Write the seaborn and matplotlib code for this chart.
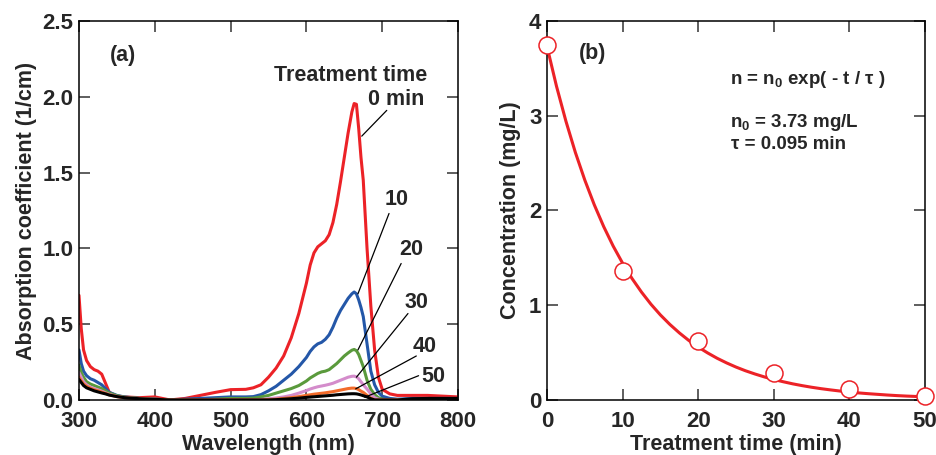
import numpy as np
import pandas as pd
import seaborn as sns
import matplotlib.pyplot as plt

# ---------------- data ---------------- #
wavelength = [300, 303, 306, 310, 315, 320, 325, 330, 335, 340, 350, 360, 380, 400,
              420, 440, 460, 480, 500, 520, 530, 540, 550, 560, 570, 580, 590,
              600, 605, 610, 615, 620, 625, 630, 635, 640, 645, 650, 655, 660, 663,
              666, 669, 672, 675, 680, 685, 690, 695, 700,
              710, 720, 740, 760, 780, 800]

abs_0min = [0.69, 0.47, 0.33, 0.26, 0.22, 0.20, 0.19, 0.17, 0.11, 0.05, 0.025, 0.02, 0.015, 0.02,
            0.0, 0.01, 0.03, 0.05, 0.068, 0.07, 0.08, 0.10, 0.15, 0.21, 0.29, 0.41, 0.57,
            0.77, 0.89, 0.97, 1.01, 1.03, 1.05, 1.09, 1.17, 1.29, 1.44, 1.60, 1.76, 1.90, 1.955,
            1.95, 1.79, 1.60, 1.45, 1.00, 0.62, 0.33, 0.15, 0.07,
            0.04, 0.03, 0.03, 0.03, 0.025, 0.02]
abs_10min = [0.33, 0.24, 0.19, 0.16, 0.14, 0.13, 0.115, 0.10, 0.075, 0.05, 0.03, 0.02, 0.01, 0.005,
             0.0, 0.005, 0.01, 0.015, 0.02, 0.02, 0.022, 0.035, 0.06, 0.09, 0.13, 0.17, 0.22,
             0.28, 0.32, 0.35, 0.37, 0.38, 0.40, 0.43, 0.48, 0.54, 0.59, 0.63, 0.67, 0.70, 0.712,
             0.70, 0.66, 0.61, 0.55, 0.37, 0.19, 0.10, 0.05, 0.025,
             0.01, 0.005, 0.01, 0.01, 0.01, 0.01]
abs_20min = [0.23, 0.18, 0.15, 0.12, 0.105, 0.095, 0.085, 0.075, 0.06, 0.045, 0.028, 0.018, 0.01, 0.005,
             0.0, 0.0, 0.0, 0.005, 0.01, 0.01, 0.012, 0.02, 0.03, 0.045, 0.06, 0.075, 0.095,
             0.125, 0.145, 0.16, 0.175, 0.185, 0.19, 0.20, 0.22, 0.24, 0.265, 0.29, 0.31, 0.328, 0.333,
             0.325, 0.30, 0.26, 0.22, 0.13, 0.07, 0.035, 0.015, 0.005,
             0.0, 0.0, 0.0, 0.0, 0.0, 0.0]
abs_30min = [0.18, 0.15, 0.12, 0.10, 0.085, 0.075, 0.067, 0.058, 0.047, 0.037, 0.023, 0.015, 0.008, 0.004,
             0.0, 0.0, 0.0, 0.0, 0.0, 0.0, 0.0, 0.003, 0.008, 0.013, 0.02, 0.03, 0.045,
             0.062, 0.072, 0.08, 0.087, 0.092, 0.097, 0.103, 0.11, 0.12, 0.13, 0.14, 0.15, 0.156, 0.157,
             0.152, 0.14, 0.12, 0.10, 0.072, 0.04, 0.015, 0.005, 0.0,
             0.0, 0.0, 0.0, 0.0, 0.0, 0.0]
abs_40min = [0.15, 0.125, 0.105, 0.09, 0.077, 0.067, 0.06, 0.052, 0.043, 0.034, 0.022, 0.015, 0.008, 0.003,
             0.0, 0.0, 0.0, 0.0, 0.0, 0.0, 0.0, 0.0, 0.002, 0.005, 0.01, 0.015, 0.022,
             0.03, 0.034, 0.038, 0.041, 0.044, 0.047, 0.051, 0.055, 0.06, 0.065, 0.07, 0.075, 0.078, 0.078,
             0.075, 0.068, 0.058, 0.05, 0.03, 0.012, 0.0, 0.0, 0.0,
             0.0, 0.0, 0.0, 0.0, 0.0, 0.0]
abs_50min = [0.135, 0.115, 0.095, 0.08, 0.07, 0.06, 0.053, 0.046, 0.04, 0.032, 0.022, 0.015, 0.008, 0.004,
             0.0, 0.0, 0.0, 0.0, 0.0, 0.0, 0.0, 0.0, 0.0, 0.002, 0.005, 0.008, 0.012,
             0.017, 0.019, 0.021, 0.023, 0.025, 0.027, 0.029, 0.031, 0.034, 0.036, 0.038, 0.04, 0.041, 0.041,
             0.04, 0.037, 0.033, 0.028, 0.02, 0.008, 0.0, 0.0, 0.0,
             0.0, 0.0, 0.008, 0.01, 0.01, 0.01]

spectra_labels = ["0 min", "10", "20", "30", "40", "50"]
spectra_colors = ["#ec2227", "#2457a8", "#5a9a3c", "#d48ccb", "#f26b2a", "#000000"]

# panel (b): measured concentrations and the fitted decay curve
treat_time = [0, 10, 20, 30, 40, 50]
concentration = [3.75, 1.36, 0.62, 0.28, 0.115, 0.045]

fit_time = [0, 1.25, 2.5, 3.75, 5, 6.25, 7.5, 8.75, 10, 11.25, 12.5, 13.75, 15, 16.25,
            17.5, 18.75, 20, 21.25, 22.5, 23.75, 25, 26.25, 27.5, 28.75, 30, 31.25, 32.5,
            33.75, 35, 36.25, 37.5, 38.75, 40, 41.25, 42.5, 43.75, 45, 46.25, 47.5, 48.75, 50]
fit_conc = [3.730, 3.312, 2.942, 2.612, 2.320, 2.060, 1.829, 1.624, 1.443, 1.281, 1.138,
            1.010, 0.897, 0.797, 0.708, 0.628, 0.558, 0.496, 0.440, 0.391, 0.347, 0.308,
            0.274, 0.243, 0.216, 0.192, 0.170, 0.151, 0.134, 0.119, 0.106, 0.094, 0.084,
            0.074, 0.066, 0.059, 0.052, 0.046, 0.041, 0.037, 0.032]

# ---------------- style ---------------- #
sns.set_style("ticks")
plt.rcParams['font.family'] = ['Liberation Sans', 'DejaVu Sans']
plt.rcParams['font.weight'] = 'bold'
plt.rcParams['axes.labelweight'] = 'bold'
plt.rcParams['mathtext.fontset'] = 'custom'
plt.rcParams['mathtext.rm'] = 'Liberation Sans:bold'
plt.rcParams['mathtext.it'] = 'Liberation Sans:bold'
plt.rcParams['mathtext.bf'] = 'Liberation Sans:bold'
plt.rcParams['mathtext.default'] = 'rm'

fig = plt.figure(figsize=(9.37, 4.55), dpi=100)
ax1 = fig.add_axes([0.0843, 0.121, 0.4045, 0.833])
ax2 = fig.add_axes([0.5838, 0.121, 0.4034, 0.833])

for ax in (ax1, ax2):
    for sp in ax.spines.values():
        sp.set_linewidth(1.1)
        sp.set_color('black')
    ax.tick_params(direction='in', length=8, width=1.1, top=True, right=True,
                   labelsize=16, color='#333333')
    ax.tick_params(axis='x', pad=8)
    ax.tick_params(axis='y', pad=4)

# ---------------- (a) spectra ---------------- #
spec = pd.DataFrame({"wavelength": wavelength})
series = [abs_0min, abs_10min, abs_20min, abs_30min, abs_40min, abs_50min]
for lab, vals in zip(spectra_labels, series):
    spec[lab] = vals
for lab, col in zip(spectra_labels, spectra_colors):
    sns.lineplot(data=spec, x="wavelength", y=lab, color=col, lw=2.2, ax=ax1)

ax1.set_xlim(300, 800)
ax1.set_ylim(0, 2.5)
ax1.set_xticks([300, 400, 500, 600, 700, 800])
ax1.set_yticks([0, 0.5, 1.0, 1.5, 2.0, 2.5])
ax1.set_yticklabels([f"{v:.1f}" for v in [0, 0.5, 1.0, 1.5, 2.0, 2.5]])
ax1.set_xlabel("Wavelength (nm)", fontsize=15.5, labelpad=1.5)
ax1.set_ylabel("Absorption coefficient (1/cm)", fontsize=15.5, labelpad=4)

ax1.text(358, 2.27, "(a)", fontsize=15.5, ha='center', va='center')
ax1.text(759, 2.14, "Treatment time", fontsize=15.5, ha='right', va='center')
ax1.text(755, 1.98, "0 min", fontsize=15.5, ha='right', va='center')

# leader lines: text position, line start, line end
leaders = [
    ("10", (719, 1.32), (709, 1.23), (668, 0.70)),
    ("20", (738, 0.99), (725, 0.90), (668, 0.33)),
    ("30", (745, 0.645), (734, 0.57), (666, 0.15)),
    ("40", (756, 0.35), (745, 0.29), (665, 0.073)),
    ("50", (767, 0.155), (748, 0.16), (677, 0.018)),
]
ax1.plot([706, 673], [1.91, 1.74], color='black', lw=0.9)
for txt, tpos, p0, p1 in leaders:
    ax1.text(tpos[0], tpos[1], txt, fontsize=15.5, ha='center', va='center')
    ax1.plot([p0[0], p1[0]], [p0[1], p1[1]], color='black', lw=0.9)

# ---------------- (b) concentration decay ---------------- #
fit_df = pd.DataFrame({"t": fit_time, "n": fit_conc})
pts_df = pd.DataFrame({"t": treat_time, "n": concentration})
sns.lineplot(data=fit_df, x="t", y="n", color="#ec2227", lw=2.2, ax=ax2)
sns.scatterplot(data=pts_df, x="t", y="n", s=150, facecolor='white',
                edgecolor="#ec2227", linewidth=1.1, zorder=5, clip_on=False, ax=ax2)

ax2.set_xlim(0, 50)
ax2.set_ylim(0, 4)
ax2.set_xticks([0, 10, 20, 30, 40, 50])
ax2.set_yticks([0, 1, 2, 3, 4])
ax2.set_xlabel("Treatment time (min)", fontsize=15.5, labelpad=1.5)
ax2.set_ylabel("Concentration (mg/L)", fontsize=15.5, labelpad=6)

ax2.text(6.0, 3.66, "(b)", fontsize=15.5, ha='center', va='center')
ax2.text(24.2, 3.38, "n = n$_0$ exp( - t / \u03c4 )", fontsize=13.5, ha='left', va='center')
ax2.text(24.2, 2.93, "n$_0$ = 3.73 mg/L", fontsize=13.5, ha='left', va='center')
ax2.text(24.4, 2.70, "\u03c4 = 0.095 min", fontsize=13.5, ha='left', va='center')

fig.savefig("out.png", dpi=100)
